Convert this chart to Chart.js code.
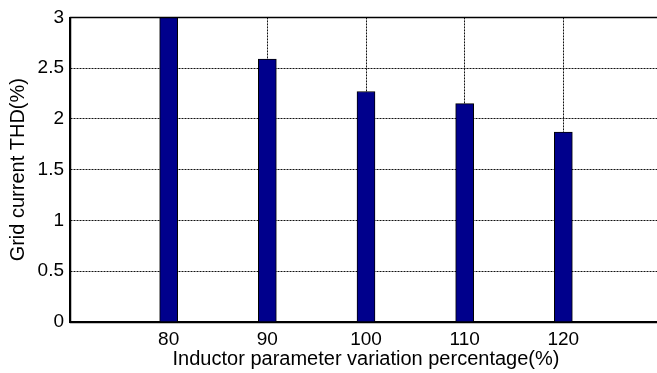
<!DOCTYPE html>
<html>
<head>
<meta charset="utf-8">
<script src="https://cdn.jsdelivr.net/npm/chart.js@4/dist/chart.umd.min.js"></script>
<style>
  html, body { margin: 0; padding: 0; background: #fff; overflow: hidden; }
  #wrap { width: 680px; height: 373px; }
</style>
</head>
<body>
<div id="wrap"><canvas id="c" width="680" height="373"></canvas></div>
<script>
// Inductor parameter variation (%) and the resulting grid current THD (%)
const variation = [80, 90, 100, 110, 120];
const thd = [3.0, 2.59, 2.27, 2.15, 1.87];
const xTicks = [80, 90, 100, 110, 120];
const yTicks = [0, 0.5, 1, 1.5, 2, 2.5, 3];

const FONT = "'Liberation Sans', Arial, Helvetica, sans-serif";

// solid box around the plotting area
const frame = {
  id: 'frame',
  afterDraw(chart) {
    const { ctx, chartArea: a } = chart;
    ctx.save();
    ctx.strokeStyle = '#000';
    ctx.lineWidth = 1.5;
    ctx.strokeRect(Math.round(a.left) + 0.5, Math.round(a.top) + 0.5,
                   Math.round(a.right - a.left), Math.round(a.bottom - a.top));
    ctx.restore();
  }
};

new Chart(document.getElementById('c'), {
  type: 'bar',
  data: {
    datasets: [{
      data: variation.map((v, i) => ({ x: v, y: thd[i] })),
      backgroundColor: '#00008c',
      borderColor: '#000',
      borderWidth: 1,
      borderSkipped: 'start',
      barThickness: 18
    }]
  },
  options: {
    responsive: false,
    animation: false,
    devicePixelRatio: 1,
    layout: { padding: { top: 14, right: 18, left: 0, bottom: 0 } },
    plugins: { legend: { display: false }, tooltip: { enabled: false } },
    scales: {
      x: {
        type: 'linear',
        min: 70,
        max: 130,
        offset: false,
        afterBuildTicks: s => { s.ticks = xTicks.map(v => ({ value: v })); },
        afterFit: s => { s.height = 51; },
        grid: { color: '#111', lineWidth: 1, drawTicks: false, tickLength: 0, offset: false },
        border: { display: true, color: '#000', width: 1.5, dash: [2, 1] },
        ticks: { color: '#000', padding: 6, font: { family: FONT, size: 19 }, maxRotation: 0,
                 callback: v => String(v) },
        title: { display: true, text: 'Inductor parameter variation percentage(%)', color: '#000',
                 font: { family: FONT, size: 20 }, padding: { top: 0, bottom: 2 } }
      },
      y: {
        min: 0,
        max: 3,
        afterBuildTicks: s => { s.ticks = yTicks.map(v => ({ value: v })); },
        afterFit: s => { s.width = 70; },
        grid: { color: '#111', lineWidth: 1, drawTicks: false, tickLength: 0 },
        border: { display: true, color: '#000', width: 1.5, dash: [2, 1] },
        ticks: { color: '#000', padding: 6, font: { family: FONT, size: 19 },
                 callback: v => String(v) },
        title: { display: true, text: 'Grid current THD(%)', color: '#000',
                 font: { family: FONT, size: 20 }, padding: { top: 6, bottom: 0 } }
      }
    }
  },
  plugins: [frame]
});
</script>
</body>
</html>
